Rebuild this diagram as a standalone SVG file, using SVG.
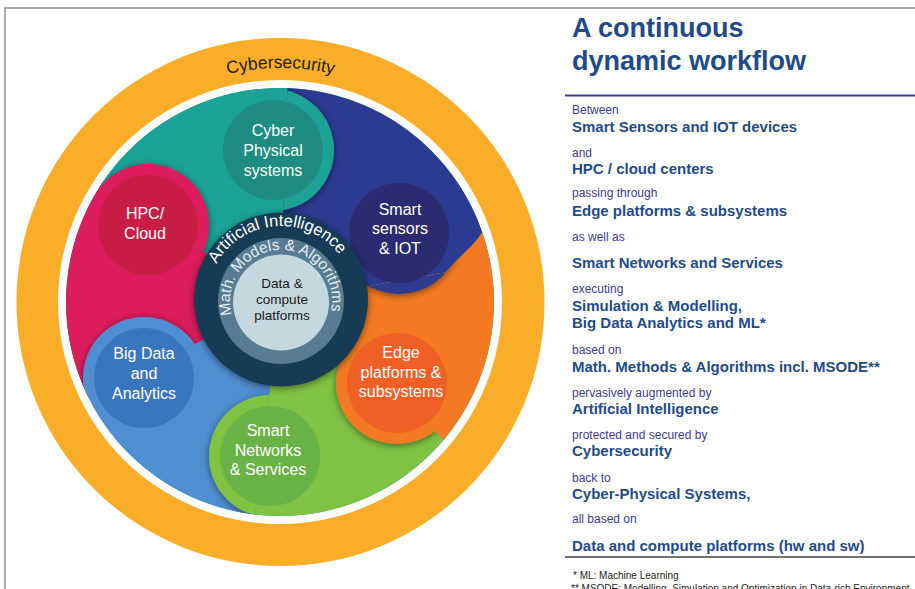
<svg xmlns="http://www.w3.org/2000/svg" xmlns:xlink="http://www.w3.org/1999/xlink" width="915" height="589" viewBox="0 0 915 589">
<style>
.lbl{font-family:"Liberation Sans",Arial,Helvetica,sans-serif;font-size:16px;fill:#ffffff;text-anchor:middle}
.ctr{font-family:"Liberation Sans",Arial,Helvetica,sans-serif;font-size:13.5px;fill:#1a1a1a;text-anchor:middle}
.arc{font-family:"Liberation Sans",Arial,Helvetica,sans-serif;text-anchor:middle}
.ttl{font-family:"Liberation Sans",Arial,Helvetica,sans-serif;font-weight:bold;font-size:27px;fill:#1F4A8A}
.sm{font-family:"Liberation Sans",Arial,Helvetica,sans-serif;font-size:12px;fill:#3E3A96}
.bd{font-family:"Liberation Sans",Arial,Helvetica,sans-serif;font-weight:bold;font-size:15px;fill:#1F4B8B}
.fn{font-family:"Liberation Sans",Arial,Helvetica,sans-serif;font-size:10px;fill:#222222}
.frame{fill:none;stroke:#8a8a8a;stroke-width:1.4}
</style>
<defs>
  <path id="w-teal" d="M280,302 L101.1,184.5 A214,214 0 0 1 287.5,88.1 Z"/>
  <path id="w-navy" d="M280,302 L287.5,88.1 A214,214 0 0 1 482.3,232.3 C474,246 458.6,256.9 445.7,272.2 Z"/>
  <path id="w-orange" d="M280,302 L445.7,272.2 C458.6,256.9 474,246 482.3,232.3 A214,214 0 0 1 443.9,439.6 Z"/>
  <path id="w-green" d="M280,302 L443.9,439.6 A214,214 0 0 1 255.0,514.5 Z"/>
  <path id="w-blue" d="M280,302 L255.0,514.5 A214,214 0 0 1 88.0,396.5 Z"/>
  <path id="w-pink" d="M280,302 L88.0,396.5 A214,214 0 0 1 101.1,184.5 Z"/>
  <clipPath id="c-teal"><use xlink:href="#w-teal"/></clipPath>
  <clipPath id="c-navy"><use xlink:href="#w-navy"/></clipPath>
  <clipPath id="c-orange"><use xlink:href="#w-orange"/></clipPath>
  <clipPath id="c-green"><use xlink:href="#w-green"/></clipPath>
  <clipPath id="c-blue"><use xlink:href="#w-blue"/></clipPath>
  <clipPath id="c-pink"><use xlink:href="#w-pink"/></clipPath>
  <filter id="sh" x="-40%" y="-40%" width="180%" height="180%">
    <feDropShadow dx="0" dy="1.5" stdDeviation="3.5" flood-color="#000" flood-opacity="0.5"/>
  </filter>
  <path id="p-cyber" d="M280.5,536 A234,234 0 1 1 280.5,68 A234,234 0 1 1 280.5,536"/>
  <path id="p-ai" d="M281,374 A74,74 0 1 1 281,226 A74,74 0 1 1 281,374"/>
  <path id="p-math" d="M281,352 A51,51 0 1 1 281,250 A51,51 0 1 1 281,352"/>
</defs>

<!-- frame -->
<path class="frame" d="M5,589 L5,8 L915,8"/>

<!-- Cybersecurity ring -->
<g id="node-cybersecurity">
  <circle cx="280.5" cy="302" r="264" fill="#F9AD28"/>
  <circle cx="280" cy="302" r="222" fill="#ffffff"/>
  <text class="arc" font-size="17.5" fill="#222222"><textPath xlink:href="#p-cyber" startOffset="50%">Cybersecurity</textPath></text>
</g>

<!-- swirl regions (tails) -->
<g id="regions">
  <circle cx="280" cy="302" r="214" fill="#1BA395"/>
  <use xlink:href="#w-teal" fill="#1BA395"/>
  <use xlink:href="#w-navy" fill="#2D3A91"/>
  <use xlink:href="#w-orange" fill="#F37A22"/>
  <use xlink:href="#w-green" fill="#80C242"/>
  <use xlink:href="#w-blue" fill="#508ED2"/>
  <use xlink:href="#w-pink" fill="#DC1C5C"/>
</g>

<g id="node-cyber-physical">
  <g clip-path="url(#c-navy)"><circle cx="273" cy="150" r="61" fill="#1BA395" filter="url(#sh)"/></g>
  <circle cx="273" cy="150" r="50" fill="#1E8C80"/>
  <text class="lbl"><tspan x="273" y="136">Cyber</tspan><tspan x="273" y="156">Physical</tspan><tspan x="273" y="176">systems</tspan></text>
</g>

<g id="node-smart-sensors">
  <g clip-path="url(#c-orange)"><circle cx="399" cy="233" r="61" fill="#2D3A91" filter="url(#sh)"/></g>
  <circle cx="399" cy="233" r="50" fill="#2A2B70"/>
  <text class="lbl"><tspan x="400" y="215">Smart</tspan><tspan x="400" y="234">sensors</tspan><tspan x="400" y="254">&amp; IOT</tspan></text>
</g>

<g id="node-edge">
  <g clip-path="url(#c-green)"><circle cx="397" cy="383" r="61" fill="#F37A22" filter="url(#sh)"/></g>
  <circle cx="397" cy="383" r="50" fill="#F06024"/>
  <text class="lbl"><tspan x="401" y="358">Edge</tspan><tspan x="401" y="378">platforms &amp;</tspan><tspan x="401" y="397">subsystems</tspan></text>
</g>

<g id="node-smart-networks">
  <g clip-path="url(#c-blue)"><circle cx="270" cy="456" r="61" fill="#80C242" filter="url(#sh)"/></g>
  <circle cx="270" cy="456" r="50" fill="#6AB246"/>
  <text class="lbl"><tspan x="268" y="436">Smart</tspan><tspan x="268" y="456">Networks</tspan><tspan x="268" y="475">&amp; Services</tspan></text>
</g>

<g id="node-big-data">
  <g clip-path="url(#c-pink)"><circle cx="144" cy="378" r="61" fill="#508ED2" filter="url(#sh)"/></g>
  <circle cx="144" cy="378" r="50" fill="#3A76BE"/>
  <text class="lbl"><tspan x="144" y="359">Big Data</tspan><tspan x="144" y="379">and</tspan><tspan x="144" y="399">Analytics</tspan></text>
</g>

<g id="node-hpc-cloud">
  <g clip-path="url(#c-teal)"><circle cx="148" cy="225" r="61" fill="#DC1C5C" filter="url(#sh)"/></g>
  <circle cx="148" cy="225" r="50" fill="#C81E46"/>
  <text class="lbl"><tspan x="145" y="219">HPC/</tspan><tspan x="145" y="239">Cloud</tspan></text>
</g>

<!-- centre -->
<g id="node-core">
  <circle cx="281" cy="299.5" r="87" fill="#163A55" filter="url(#sh)"/>
  <text class="arc" font-size="16.5" fill="#ffffff"><textPath xlink:href="#p-ai" startOffset="48.8%">Artificial Intelligence</textPath></text>
  <circle cx="281" cy="301" r="63" fill="#587C91"/>
  <text class="arc" font-size="15.5" fill="#E4ECF0"><textPath xlink:href="#p-math" startOffset="49.4%">Math. Models &amp; Algorithms</textPath></text>
  <circle cx="281" cy="302.5" r="48" fill="#C5D7DF"/>
  <text class="ctr"><tspan x="282" y="288">Data &amp;</tspan><tspan x="282" y="304">compute</tspan><tspan x="282" y="320">platforms</tspan></text>
</g>

<!-- right text panel -->
<g id="panel">
  <text class="ttl" x="572" y="37">A continuous</text>
  <text class="ttl" x="572" y="70">dynamic workflow</text>
  <line x1="565" y1="95.5" x2="915" y2="95.5" stroke="#3F3F8F" stroke-width="2"/>
  <text class="sm" x="572" y="114">Between</text>
  <text class="bd" x="572" y="132">Smart Sensors and IOT devices</text>
  <text class="sm" x="572" y="157">and</text>
  <text class="bd" x="572" y="174">HPC / cloud centers</text>
  <text class="sm" x="572" y="197">passing through</text>
  <text class="bd" x="572" y="216">Edge platforms &amp; subsystems</text>
  <text class="sm" x="572" y="241">as well as</text>
  <text class="bd" x="572" y="268">Smart Networks and Services</text>
  <text class="sm" x="572" y="293">executing</text>
  <text class="bd" x="572" y="311">Simulation &amp; Modelling,</text>
  <text class="bd" x="572" y="328">Big Data Analytics and ML*</text>
  <text class="sm" x="572" y="354">based on</text>
  <text class="bd" x="572" y="372">Math. Methods &amp; Algorithms incl. MSODE**</text>
  <text class="sm" x="572" y="397">pervasively augmented by</text>
  <text class="bd" x="572" y="414">Artificial Intelligence</text>
  <text class="sm" x="572" y="439">protected and secured by</text>
  <text class="bd" x="572" y="456">Cybersecurity</text>
  <text class="sm" x="572" y="482">back to</text>
  <text class="bd" x="572" y="499">Cyber-Physical Systems,</text>
  <text class="sm" x="572" y="523">all based on</text>
  <text class="bd" x="572" y="551">Data and compute platforms (hw and sw)</text>
  <line x1="565" y1="557" x2="915" y2="557" stroke="#444" stroke-width="1.6"/>
  <text class="fn" x="573" y="579">* ML: Machine Learning</text>
  <text class="fn" x="571" y="592">** MSODE: Modelling, Simulation and Optimization in Data-rich Environment</text>
</g>
</svg>
